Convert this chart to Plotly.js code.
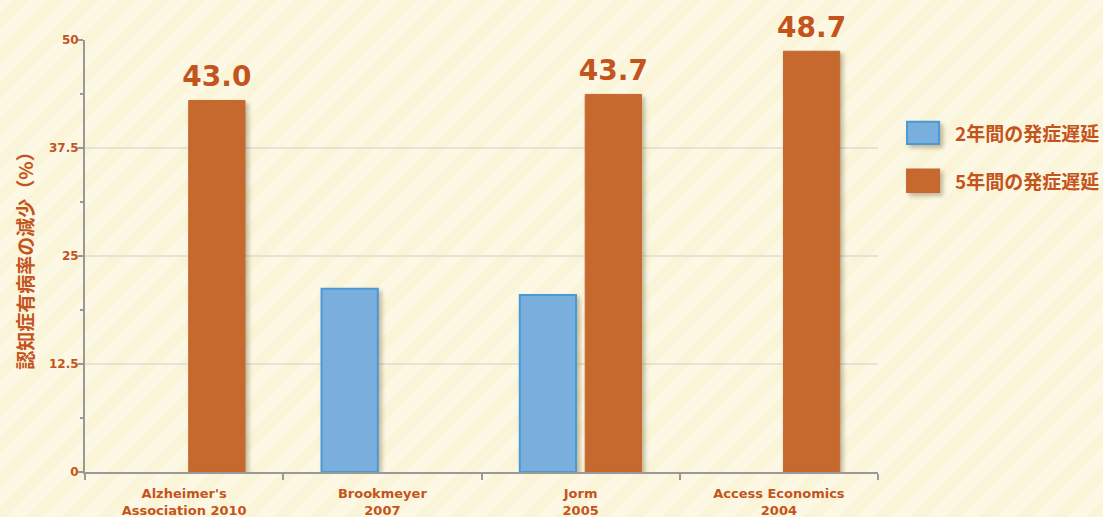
<!DOCTYPE html>
<html>
<head>
<meta charset="utf-8">
<script src="https://cdn.plot.ly/plotly-3.0.1.min.js"></script>
<style>
  html, body { margin:0; padding:0; }
  body {
    width:1103px; height:517px; overflow:hidden;
    background: repeating-linear-gradient(-45deg, #FAF4D8 0px, #FAF4D8 12px, #FCF8E4 12px, #FCF8E4 25px);
  }
  #chart { width:1103px; height:517px; }
  .trace.bars .point path { filter: drop-shadow(3px 3px 2px rgba(90,70,30,0.35)); }
  .legshadow { filter: drop-shadow(3px 3px 2px rgba(90,70,30,0.35)); }
</style>
</head>
<body>
<div id="chart"></div>
<script>
const categories = ["Alzheimer's<br>Association 2010", "Brookmeyer<br>2007", "Jorm<br>2005", "Access Economics<br>2004"];
const seriesNames = ["2年間の発症遅延", "5年間の発症遅延"];
const delay2 = [null, 21.2, 20.5, null];
const delay5 = [43.0, null, 43.7, 48.7];
const yTicks = [0, 12.5, 25, 37.5, 50];
const gridValues = [12.5, 25, 37.5];
const yTitle = "認知症有病率の減少（%）";

const textColor = "#C4541D";
const fontLatin = "DejaVu Sans, Verdana, sans-serif";
const fontJP = "Noto Sans CJK JP, sans-serif";

const traces = [
  {
    type: "bar", name: seriesNames[0], x: categories, y: delay2, offsetgroup: "a",
    marker: { color: "#7AAEDD", line: { color: "#4A9AD3", width: 2 } },
    showlegend: false, hoverinfo: "skip"
  },
  {
    type: "bar", name: seriesNames[1], x: categories, y: delay5, offsetgroup: "b",
    marker: { color: "#C5692E", line: { color: "#C5692E", width: 1 } },
    showlegend: false, hoverinfo: "skip"
  },
  {
    type: "scatter", mode: "markers", x: categories, y: delay2, offsetgroup: "a",
    marker: { size: 1, opacity: 0 }, showlegend: false, hoverinfo: "skip", cliponaxis: false
  },
  {
    type: "scatter", mode: "markers+text", x: categories, y: delay5, offsetgroup: "b",
    text: delay5.map(v => v == null ? "" : v.toFixed(1)),
    textposition: "top center",
    textfont: { family: fontLatin, size: 28, color: textColor, weight: "bold" },
    marker: { size: 10, opacity: 0 }, showlegend: false, hoverinfo: "skip", cliponaxis: false
  }
];

const legendColors = [
  { fill: "#7AAEDD", line: "#4A9AD3" },
  { fill: "#C5692E", line: "#C5692E" }
];
const legY = [0.785, 0.674];
const shapes = [];
const annotations = [];
gridValues.forEach(v => {
  shapes.push({
    type: "line", xref: "paper", yref: "y", x0: 0, x1: 1, y0: v, y1: v,
    line: { color: "#DEDCD2", width: 1.5 }, layer: "below"
  });
});
seriesNames.forEach((n, i) => {
  shapes.push({
    type: "rect", xref: "paper", yref: "paper",
    x0: 1.0366, x1: 1.077, y0: legY[i] - 0.026, y1: legY[i] + 0.026,
    fillcolor: legendColors[i].fill, line: { color: legendColors[i].line, width: 2 }
  });
  annotations.push({
    xref: "paper", yref: "paper", x: 1.095, y: legY[i], xanchor: "left", yanchor: "middle",
    text: n, showarrow: false,
    font: { family: fontJP, size: 19, color: textColor, weight: "bold" }
  });
});

const layout = {
  width: 1103, height: 517,
  margin: { l: 85, r: 225, t: 40, b: 45 },
  paper_bgcolor: "rgba(0,0,0,0)",
  plot_bgcolor: "rgba(0,0,0,0)",
  barmode: "group",
  bargap: 0.34,
  bargroupgap: 0.14,
  scattermode: "group",
  scattergap: 0.34,
  showlegend: false,
  xaxis: {
    type: "category",
    showline: true, linecolor: "#999999", linewidth: 2,
    ticks: "outside", tickson: "boundaries", ticklen: 6, tickcolor: "#999999", tickwidth: 2,
    ticklabelstandoff: 8,
    tickfont: { family: fontLatin, size: 13, color: textColor, weight: "bold" },
    showgrid: false, fixedrange: true
  },
  yaxis: {
    range: [0, 50],
    tickvals: yTicks, ticktext: yTicks.map(String),
    showline: true, linecolor: "#999999", linewidth: 2,
    ticks: "outside", ticklen: 5, tickcolor: "#999999", tickwidth: 2,
    ticklabelstandoff: -3,
    minor: { dtick: 6.25, ticks: "outside", ticklen: 3, tickcolor: "#999999", tickwidth: 2, showgrid: false },
    tickfont: { family: fontLatin, size: 12, color: textColor, weight: "bold" },
    showgrid: false,
    zeroline: false,
    title: { text: yTitle, standoff: 10, font: { family: fontJP, size: 19, color: textColor, weight: "bold" } },
    fixedrange: true
  },
  shapes: shapes,
  annotations: annotations
};

Plotly.newPlot("chart", traces, layout, { displayModeBar: false, staticPlot: true }).then(() => {
  document.querySelectorAll(".shapelayer path[data-index]").forEach(p => {
    const idx = +p.getAttribute("data-index");
    if (idx >= gridValues.length) p.classList.add("legshadow");
  });
});
</script>
</body>
</html>
